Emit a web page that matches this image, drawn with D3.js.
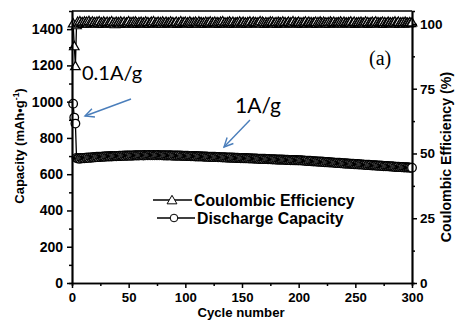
<!DOCTYPE html>
<html><head><meta charset="utf-8">
<script src="https://cdn.jsdelivr.net/npm/d3@7"></script>
<style>
html,body{margin:0;padding:0;background:#fff;}
svg{display:block;}
</style></head>
<body>
<script>
// ---- Data ----
const xTicks = [0, 50, 100, 150, 200, 250, 300];
const capTicks = [0, 200, 400, 600, 800, 1000, 1200, 1400];
const ceTicks = [0, 25, 50, 75, 100];

// Discharge capacity (mAh/g), cycles 1..300
const capacity = [
989,912,879,690,686,688,685,689,687,690,688,691,689,692,690,693,691,694,692,695,
693,696,694,697,695,697,696,698,696,699,697,699,698,700,698,700,699,701,699,701,
700,702,700,702,701,703,701,703,702,704,702,704,702,704,703,705,703,705,703,705,
704,705,703,706,704,705,704,706,704,705,704,706,704,705,704,706,704,705,704,705,
703,705,703,704,703,705,703,704,702,704,702,703,702,704,701,703,701,702,701,702,
700,702,700,701,699,701,699,700,698,700,698,699,697,699,697,698,696,698,696,697,
695,697,695,696,694,696,694,695,693,695,693,694,692,694,692,693,691,693,691,692,
690,692,690,691,689,691,689,690,688,690,688,689,687,689,687,688,686,688,686,687,
685,687,685,686,684,686,684,685,683,685,683,684,682,684,682,683,681,683,681,682,
680,682,680,681,679,681,679,680,678,680,678,679,677,679,677,678,676,678,676,677,
676,677,675,676,674,675,673,675,672,674,671,673,670,672,670,671,669,670,668,670,
667,669,666,668,665,667,664,666,664,665,663,664,662,664,661,663,660,662,659,661,
658,660,657,659,657,658,656,658,655,657,654,656,653,655,653,654,652,653,651,653,
650,652,649,651,648,650,648,649,647,648,646,648,645,647,644,646,644,645,643,644,
642,644,641,643,640,642,640,641,639,640,638,640,637,639,637,638,636,637,635,636
];

// Coulombic efficiency (%), cycles 1..300
const efficiency = [
100.3,91.5,83.8,99.6,100.9,100.2,101.1,100.4,100.8,100.1,101.0,100.5,100.9,100.2,101.2,100.6,100.3,101.0,100.4,100.8,
100.2,100.9,100.5,101.1,100.3,100.7,100.1,101.0,100.6,100.4,100.9,100.2,100.8,100.5,101.1,100.3,100.7,100.0,100.9,100.4,
100.8,100.2,101.0,100.6,100.3,100.9,100.1,100.7,100.5,101.1,100.2,100.8,100.4,100.9,100.3,101.0,100.6,100.1,100.8,100.5,
100.9,100.3,100.7,100.2,101.0,100.5,100.8,100.1,100.6,100.9,100.4,101.1,100.2,100.7,100.5,100.9,100.3,100.8,100.1,101.0,
100.6,100.2,100.9,100.4,100.7,100.3,101.0,100.5,100.8,100.2,100.6,100.9,100.1,100.7,100.4,101.1,100.3,100.8,100.5,100.9,
100.2,100.7,100.4,101.0,100.6,100.1,100.8,100.3,100.9,100.5,100.2,101.0,100.6,100.8,100.3,100.7,100.1,100.9,100.4,100.8,
100.5,101.0,100.2,100.7,100.4,100.9,100.3,100.8,100.6,100.1,100.9,100.5,101.1,100.3,100.7,100.2,100.8,100.4,101.0,100.6,
100.3,100.9,100.1,100.7,100.5,100.8,100.2,101.0,100.4,100.6,100.9,100.3,100.7,100.1,100.8,100.5,101.0,100.2,100.6,100.9,
100.4,100.8,100.3,100.7,100.5,101.1,100.2,100.9,100.6,100.1,100.8,100.4,100.7,100.3,101.0,100.5,100.9,100.2,100.6,100.8,
100.1,100.9,100.5,100.7,100.3,101.0,100.4,100.8,100.2,100.6,100.9,100.3,100.7,100.5,101.1,100.2,100.8,100.4,100.6,100.9,
100.3,100.7,100.1,100.8,100.5,101.0,100.2,100.6,100.9,100.4,100.8,100.3,100.7,100.5,100.9,100.1,100.8,100.4,101.0,100.6,
100.2,100.9,100.5,100.7,100.3,100.8,100.1,101.0,100.6,100.4,100.9,100.2,100.7,100.5,100.8,100.3,101.0,100.6,100.2,100.9,
100.4,100.7,100.3,100.8,100.5,101.0,100.2,100.6,100.9,100.1,100.7,100.4,100.8,100.3,100.9,100.5,100.6,100.2,101.0,100.4,
100.8,100.1,100.7,100.5,100.9,100.3,100.6,101.0,100.2,100.8,100.4,100.7,100.5,100.9,100.1,100.8,100.3,100.6,100.9,100.4,
100.7,100.2,100.8,100.5,101.0,100.3,100.6,100.9,100.1,100.7,100.4,100.8,100.2,100.9,100.5,100.6,100.3,100.8,100.4,100.7
];

// ---- Layout ----
const W = 455, H = 320;
const L = 72, R = 412, T = 11, B = 283;

const svg = d3.select("body").append("svg").attr("width", W).attr("height", H);

const x = d3.scaleLinear().domain([0, 300]).range([L, R]);
const yCap = d3.scaleLinear().domain([0, 1500]).range([B, T]);
const yCE = d3.scaleLinear().domain([0, 105]).range([B, T]);

const tickFont = "'Liberation Sans', Arial, sans-serif";
const fmt = d3.format("d");

function styleAxis(size) {
  return g => {
    g.selectAll("path.domain").attr("stroke", "#000").attr("stroke-width", 1.7);
    g.selectAll(".tick line").attr("stroke", "#000").attr("stroke-width", 1.5);
    g.selectAll("text").attr("font-family", tickFont).attr("font-weight", "bold")
      .attr("font-size", size + "px").attr("fill", "#000");
  };
}

// ---- Series (drawn first so axes sit on top) ----
const triangle = d3.symbol().type(d3.symbolTriangle).size(40);

const ceData = efficiency.map((v, i) => [i + 1, v]);
const capData = capacity.map((v, i) => [i + 1, v]);

svg.append("path").datum(ceData)
  .attr("d", d3.line().x(d => x(d[0])).y(d => yCE(d[1])))
  .attr("fill", "none").attr("stroke", "#000").attr("stroke-width", 1.3);
svg.append("g").selectAll("path").data(ceData).join("path")
  .attr("d", triangle)
  .attr("transform", d => `translate(${x(d[0])},${yCE(d[1]) + 1})`)
  .attr("fill", "#fff").attr("stroke", "#000").attr("stroke-width", 1.2);

svg.append("path").datum(capData)
  .attr("d", d3.line().x(d => x(d[0])).y(d => yCap(d[1])))
  .attr("fill", "none").attr("stroke", "#000").attr("stroke-width", 1.3);
svg.append("g").selectAll("circle").data(capData).join("circle")
  .attr("cx", d => x(d[0])).attr("cy", d => yCap(d[1])).attr("r", 4.3)
  .attr("fill", "#fff").attr("stroke", "#000").attr("stroke-width", 1.3);

// minor ticks
svg.append("g").attr("transform", `translate(0,${B})`)
  .call(d3.axisBottom(x).tickValues(d3.range(25, 300, 50)).tickSize(3).tickFormat(""))
  .call(styleAxis(13));
svg.append("g").attr("transform", `translate(${L},0)`)
  .call(d3.axisLeft(yCap).tickValues(d3.range(100, 1500, 200)).tickSize(3).tickFormat(""))
  .call(styleAxis(13));
svg.append("g").attr("transform", `translate(${R},0)`)
  .call(d3.axisRight(yCE).tickValues([12.5, 37.5, 62.5, 87.5]).tickSize(3).tickFormat(""))
  .call(styleAxis(13));

// major axes
svg.append("g").attr("transform", `translate(0,${B})`)
  .call(d3.axisBottom(x).tickValues(xTicks).tickFormat(fmt).tickSize(5).tickPadding(5).tickSizeOuter(0))
  .call(styleAxis(13.2));
svg.append("g").attr("transform", `translate(${L},0)`)
  .call(d3.axisLeft(yCap).tickValues(capTicks).tickFormat(fmt).tickSize(5).tickPadding(4).tickSizeOuter(0))
  .call(styleAxis(14));
svg.append("g").attr("transform", `translate(${R},0)`)
  .call(d3.axisRight(yCE).tickValues(ceTicks).tickFormat(fmt).tickSize(5).tickPadding(3).tickSizeOuter(0))
  .call(styleAxis(13.5));

// top frame
svg.append("line").attr("x1", L).attr("x2", R).attr("y1", T).attr("y2", T)
  .attr("stroke", "#000").attr("stroke-width", 1.7);

// ---- Axis titles ----
svg.append("text").attr("transform", `translate(19,146) rotate(-90)`)
  .attr("text-anchor", "middle").attr("font-family", tickFont).attr("font-weight", "bold")
  .attr("font-size", "13px").attr("dy", "0.35em")
  .html('Capacity (mAh\u2022g<tspan dy="-5" font-size="8.5px">-1</tspan><tspan dy="5">)</tspan>');

svg.append("text").attr("transform", `translate(446,157) rotate(-90)`)
  .attr("text-anchor", "middle").attr("font-family", tickFont).attr("font-weight", "bold")
  .attr("font-size", "14.2px").attr("dy", "0.35em")
  .text("Coulombic Efficiency (%)");

svg.append("text").attr("x", 241).attr("y", 317.2)
  .attr("text-anchor", "middle").attr("font-family", tickFont).attr("font-weight", "bold")
  .attr("font-size", "13.2px").text("Cycle number");

// ---- Legend ----
const legend = svg.append("g");
legend.append("line").attr("x1", 153).attr("x2", 192).attr("y1", 200).attr("y2", 200)
  .attr("stroke", "#000").attr("stroke-width", 1.3);
legend.append("path").attr("d", d3.symbol().type(d3.symbolTriangle).size(42))
  .attr("transform", "translate(172,201)").attr("fill", "#fff").attr("stroke", "#000").attr("stroke-width", 1);
legend.append("text").attr("x", 194).attr("y", 205.5).attr("font-family", tickFont)
  .attr("font-weight", "bold").attr("font-size", "15.8px").text("Coulombic Efficiency");

legend.append("line").attr("x1", 157).attr("x2", 195).attr("y1", 218).attr("y2", 218)
  .attr("stroke", "#000").attr("stroke-width", 1.3);
legend.append("circle").attr("cx", 174).attr("cy", 218).attr("r", 3.8)
  .attr("fill", "#fff").attr("stroke", "#000").attr("stroke-width", 1);
legend.append("text").attr("x", 197).attr("y", 223.5).attr("font-family", tickFont)
  .attr("font-weight", "bold").attr("font-size", "15.8px").text("Discharge Capacity");

// ---- Annotations ----
svg.append("text").attr("x", 369).attr("y", 65).attr("font-family", "'Liberation Serif', 'Times New Roman', serif")
  .attr("font-size", "20px").text("(a)");

svg.append("text").attr("x", 82).attr("y", 80).attr("font-family", "Lato, 'Open Sans', sans-serif")
  .attr("font-size", "20px").text("0.1A/g");
svg.append("text").attr("x", 235).attr("y", 113).attr("font-family", "Lato, 'Open Sans', sans-serif")
  .attr("font-size", "21px").text("1A/g");

const blue = "#4a7ebb";
function arrow(x1, y1, x2, y2) {
  const g = svg.append("g").attr("stroke", blue).attr("stroke-width", 1.4).attr("fill", "none");
  g.append("line").attr("x1", x1).attr("y1", y1).attr("x2", x2).attr("y2", y2);
  const a = Math.atan2(y2 - y1, x2 - x1), len = 10, sp = 0.45;
  g.append("path").attr("d",
    `M${x2 - len * Math.cos(a - sp)},${y2 - len * Math.sin(a - sp)} L${x2},${y2} L${x2 - len * Math.cos(a + sp)},${y2 - len * Math.sin(a + sp)}`);
}
arrow(131, 99, 85, 116);
arrow(250, 120, 224, 147);
</script>
</body></html>
